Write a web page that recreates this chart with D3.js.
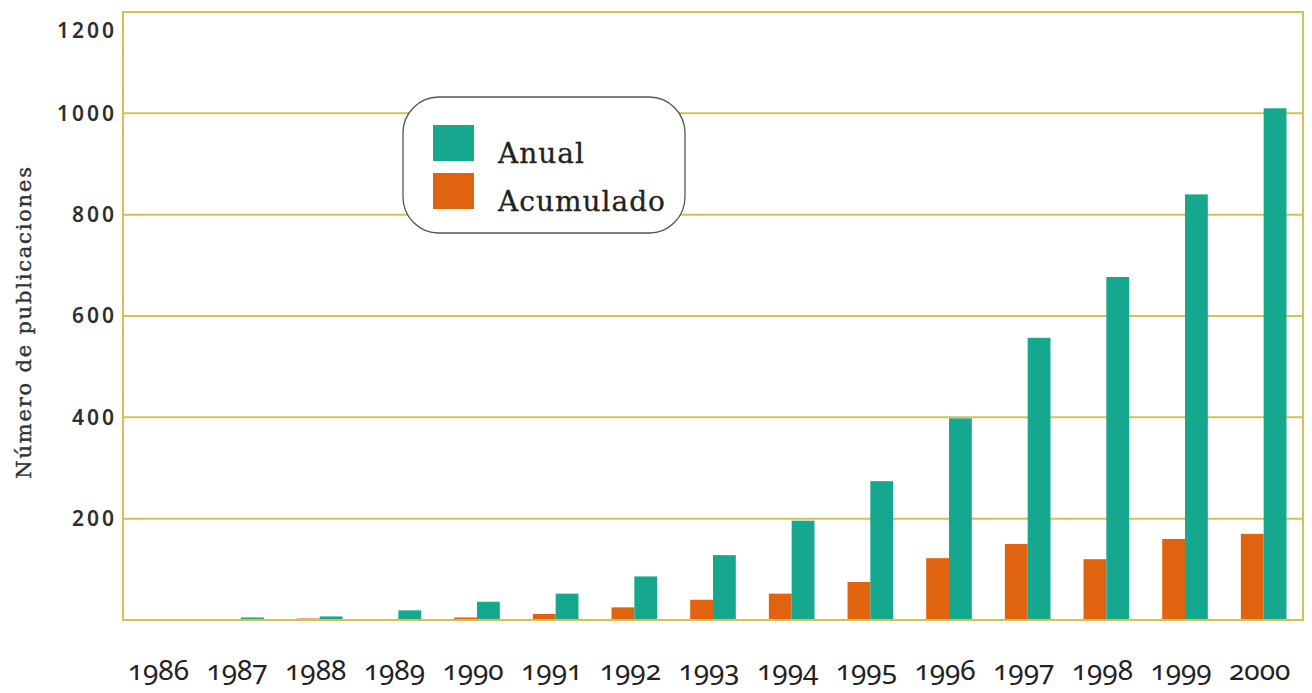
<!DOCTYPE html>
<html>
<head>
<meta charset="utf-8">
<script src="https://cdn.jsdelivr.net/npm/d3@7"></script>
<style>
  html, body { margin: 0; padding: 0; background: #ffffff; }
  svg { display: block; }
</style>
</head>
<body>
<svg id="chart" width="1312" height="693"></svg>
<script>
// Publications per year, 1986–2000
const years = ["1986","1987","1988","1989","1990","1991","1992","1993","1994","1995","1996","1997","1998","1999","2000"];
const anual = [0, 5, 7, 19, 36, 52, 86, 128, 196, 274, 398, 557, 677, 840, 1010];
const acumulado = [0, 0, 3, 2, 5, 12, 25, 40, 52, 75, 122, 150, 120, 160, 170];
const yTicks = [200, 400, 600, 800, 1000, 1200];
const seriesNames = ["Acumulado", "Anual"];
const legendNames = ["Anual", "Acumulado"];
const colors = { Anual: "#16a88f", Acumulado: "#e0640f" };

const svg = d3.select("#chart");
const plot = { left: 123, right: 1303, top: 12, bottom: 620 };
const gridColor = "#d6bf55";

const x0 = d3.scaleBand().domain(years).range([plot.left, plot.right])
  .paddingInner(0.42).paddingOuter(0.21);
const x1 = d3.scaleBand().domain(seriesNames).range([0, x0.bandwidth()]).padding(0);
const y = d3.scaleLinear().domain([0, 1200]).range([plot.bottom, plot.top]);

const rows = years.map((yr, i) => ({ year: yr, Anual: anual[i], Acumulado: acumulado[i] }));

// horizontal gridlines
svg.append("g")
  .selectAll("line")
  .data(yTicks)
  .join("line")
  .attr("x1", plot.left).attr("x2", plot.right)
  .attr("y1", d => y(d)).attr("y2", d => y(d))
  .attr("stroke", gridColor).attr("stroke-width", 2);

// plot frame
svg.append("rect")
  .attr("x", plot.left).attr("y", plot.top)
  .attr("width", plot.right - plot.left).attr("height", plot.bottom - plot.top)
  .attr("fill", "none").attr("stroke", gridColor).attr("stroke-width", 2);

// bars
const groups = svg.append("g").selectAll("g")
  .data(rows)
  .join("g")
  .attr("transform", d => `translate(${x0(d.year)},0)`);

groups.selectAll("rect")
  .data(d => seriesNames.map(k => ({ key: k, value: d[k] })))
  .join("rect")
  .attr("x", d => x1(d.key))
  .attr("width", x1.bandwidth())
  .attr("y", d => y(d.value))
  .attr("height", d => y(0) - y(d.value))
  .attr("fill", d => colors[d.key]);

// baseline over the bars' feet
svg.append("line")
  .attr("x1", plot.left).attr("x2", plot.right)
  .attr("y1", y(0)).attr("y2", y(0))
  .attr("stroke", gridColor).attr("stroke-width", 2);

// y axis labels
const yAxis = d3.axisLeft(y).tickValues(yTicks).tickFormat(d3.format("d")).tickSize(0).tickPadding(6);
const yg = svg.append("g")
  .attr("transform", `translate(${plot.left},0)`)
  .call(yAxis);
yg.select(".domain").remove();
yg.selectAll("text")
  .attr("font-family", "'Noto Sans', sans-serif")
  .attr("font-size", 21)
  .attr("font-weight", 600)
  .attr("letter-spacing", "3px")
  .attr("fill", "#2e2e2e");
yg.selectAll(".tick").filter(d => d === 1200).select("text").attr("dy", "1.2em");

// x axis labels
const xAxis = d3.axisBottom(x0).tickSize(0).tickPadding(0);
const xg = svg.append("g")
  .attr("transform", `translate(-4,${plot.bottom + 40})`)
  .call(xAxis);
xg.select(".domain").remove();
xg.selectAll("text")
  .attr("font-family", "'Noto Sans', sans-serif")
  .attr("font-size", 28)
  .style("font-variant-numeric", "oldstyle-nums")
  .attr("fill", "#222");

// y axis title
svg.append("text")
  .attr("transform", `translate(31,${(plot.top + plot.bottom) / 2 + 6}) rotate(-90)`)
  .attr("text-anchor", "middle")
  .attr("font-family", "'DejaVu Serif', serif")
  .attr("font-size", 21)
  .attr("letter-spacing", "1.8px")
  .attr("fill", "#333")
  .attr("stroke", "#333")
  .attr("stroke-width", 0.4)
  .text("Número de publicaciones");

// legend
const legend = svg.append("g");
legend.append("rect")
  .attr("x", 403).attr("y", 97)
  .attr("width", 282).attr("height", 136)
  .attr("rx", 36).attr("ry", 36)
  .attr("fill", "#fff").attr("stroke", "#555").attr("stroke-width", 1.3);
const items = legend.selectAll("g.item")
  .data(legendNames)
  .join("g")
  .attr("class", "item")
  .attr("transform", (d, i) => `translate(433,${125 + i * 48})`);
items.append("rect")
  .attr("width", 41).attr("height", 36)
  .attr("fill", d => colors[d]);
items.append("text")
  .attr("x", 65).attr("y", 38)
  .attr("font-family", "'DejaVu Serif', serif")
  .attr("font-size", 28)
  .attr("letter-spacing", "1px")
  .attr("fill", "#222")
  .attr("stroke", "#222")
  .attr("stroke-width", 0.3)
  .text(d => d);
</script>
</body>
</html>
